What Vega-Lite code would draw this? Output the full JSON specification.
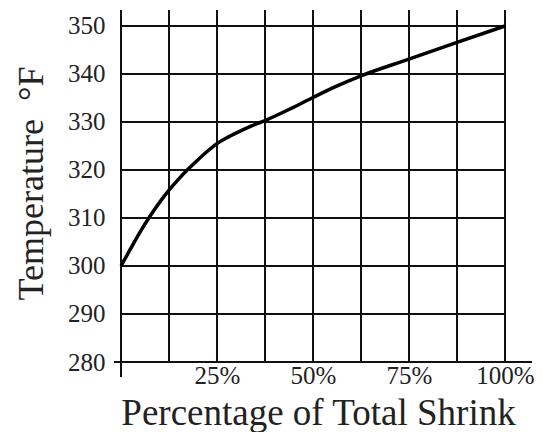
{
  "$schema": "https://vega.github.io/schema/vega-lite/v6.json",
  "width": 411,
  "height": 352,
  "autosize": "none",
  "padding": {"left": 121, "top": 10, "right": 11, "bottom": 70},
  "background": "white",
  "config": {"view": {"stroke": null}, "font": "Liberation Serif"},
  "layer": [
    {
      "data": {"values": [
        {"x": 0, "x2": 100, "y": 290, "y2": 290},
        {"x": 0, "x2": 100, "y": 300, "y2": 300},
        {"x": 0, "x2": 100, "y": 310, "y2": 310},
        {"x": 0, "x2": 100, "y": 320, "y2": 320},
        {"x": 0, "x2": 100, "y": 330, "y2": 330},
        {"x": 0, "x2": 100, "y": 340, "y2": 340},
        {"x": 0, "x2": 100, "y": 350, "y2": 350},
        {"x": -1.8, "x2": 107.03, "y": 280, "y2": 280},
        {"x": 0, "x2": 0, "y": 276.875, "y2": 353.33},
        {"x": 12.5, "x2": 12.5, "y": 280, "y2": 353.33},
        {"x": 25, "x2": 25, "y": 280, "y2": 353.33},
        {"x": 37.5, "x2": 37.5, "y": 280, "y2": 353.33},
        {"x": 50, "x2": 50, "y": 280, "y2": 353.33},
        {"x": 62.5, "x2": 62.5, "y": 280, "y2": 353.33},
        {"x": 75, "x2": 75, "y": 280, "y2": 353.33},
        {"x": 87.5, "x2": 87.5, "y": 280, "y2": 353.33},
        {"x": 100, "x2": 100, "y": 280, "y2": 353.33}
      ]},
      "mark": {"type": "rule", "color": "#111", "strokeWidth": 2},
      "encoding": {
        "x": {
          "field": "x", "type": "quantitative",
          "title": "Percentage of Total Shrink",
          "scale": {"domain": [0, 107.03], "nice": false, "zero": false},
          "axis": {
            "values": [25, 50, 75, 100],
            "labelExpr": "datum.value + '%'",
            "domain": false, "ticks": false, "grid": false,
            "labelFontSize": 25, "labelColor": "#222", "labelPadding": 1,
            "titleFontSize": 37, "titleFontWeight": "normal", "titleColor": "#222",
            "titleX": 197, "titlePadding": 7
          }
        },
        "x2": {"field": "x2"},
        "y": {
          "field": "y", "type": "quantitative",
          "title": "Temperature\u00a0\u00a0°F",
          "scale": {"domain": [280, 353.33], "nice": false, "zero": false},
          "axis": {
            "values": [280, 290, 300, 310, 320, 330, 340, 350],
            "domain": false, "ticks": false, "grid": false,
            "labelFontSize": 25, "labelColor": "#222", "labelPadding": 16,
            "titleFontSize": 36, "titleFontWeight": "normal", "titleColor": "#222",
            "titleY": 173, "titlePadding": 17
          }
        },
        "y2": {"field": "y2"}
      }
    },
    {
      "data": {"values": [
        {"x": 0, "y": 300},
        {"x": 2.5, "y": 303.6},
        {"x": 5, "y": 307.1},
        {"x": 7.5, "y": 310.3},
        {"x": 10, "y": 313.2},
        {"x": 12.5, "y": 315.8},
        {"x": 15, "y": 318.1},
        {"x": 17.5, "y": 320.2},
        {"x": 20, "y": 322.1},
        {"x": 22.5, "y": 323.9},
        {"x": 25, "y": 325.5},
        {"x": 28, "y": 326.9},
        {"x": 31, "y": 328.1},
        {"x": 34, "y": 329.2},
        {"x": 37.5, "y": 330.3},
        {"x": 44, "y": 332.7},
        {"x": 50, "y": 335.1},
        {"x": 56, "y": 337.4},
        {"x": 62.5, "y": 339.6},
        {"x": 75, "y": 343.1},
        {"x": 87.5, "y": 346.6},
        {"x": 100, "y": 350}
      ]},
      "mark": {"type": "line", "color": "black", "strokeWidth": 3.5, "interpolate": "monotone"},
      "encoding": {
        "x": {"field": "x", "type": "quantitative", "title": "Percentage of Total Shrink"},
        "y": {"field": "y", "type": "quantitative", "title": "Temperature\u00a0\u00a0°F"}
      }
    }
  ]
}
